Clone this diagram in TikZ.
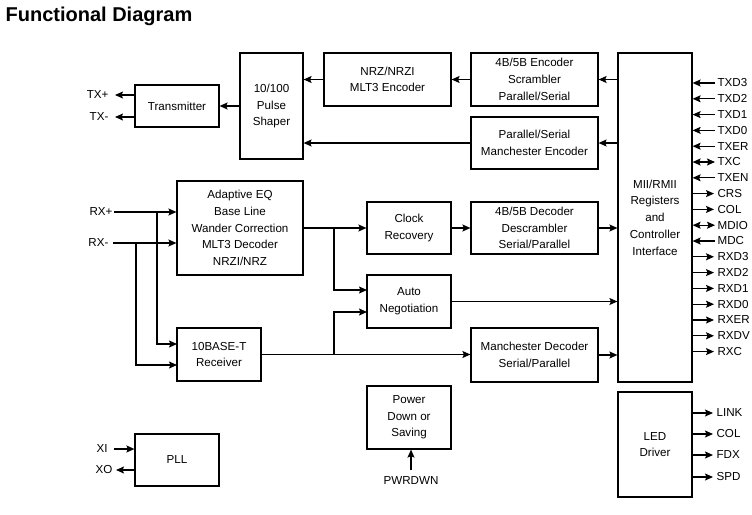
\documentclass[tikz,border=0pt]{standalone}
\usepackage{fontspec}
\setmainfont{Liberation Sans}
\usetikzlibrary{arrows.meta}
\newcommand\bodyfnt{\fontsize{11.6}{16.7}\selectfont}
\newcommand\titlefnt{\fontsize{20}{24}\selectfont\bfseries}
\begin{document}
\begin{tikzpicture}[x=1pt,y=-1pt,line width=1.2pt,
  >={Stealth[length=8pt,width=7pt,inset=1.5pt]},
  box/.style={draw,inner sep=0pt,align=center,font=\bodyfnt},
  sig/.style={inner sep=1pt,font=\bodyfnt}]
\useasboundingbox (0,0) rectangle (752,514);
\node[anchor=base west,inner sep=0pt,font=\titlefnt] (title) at (5,21) {Functional Diagram};
% boxes
\node[box,minimum width=84pt,minimum height=42pt] (tx) at (177,106) {Transmitter};
\node[box,minimum width=63pt,minimum height=106pt] (ps) at (271.5,106) {10/100\\Pulse\\Shaper};
\node[box,minimum width=127pt,minimum height=53pt] (nrz) at (387.5,79.5) {NRZ/NRZI\\MLT3 Encoder};
\node[box,minimum width=127pt,minimum height=53pt] (enc) at (534.5,79.5) {4B/5B Encoder\\Scrambler\\Parallel/Serial};
\node[box,minimum width=127pt,minimum height=52pt] (menc) at (534.5,143) {Parallel/Serial\\Manchester Encoder};
\node[box,minimum width=74pt,minimum height=329pt] (mii) at (655,217.5) {MII/RMII\\Registers\\and\\Controller\\Interface};
\node[box,minimum width=126pt,minimum height=94pt] (eq) at (240,228) {Adaptive EQ\\Base Line\\Wander Correction\\MLT3 Decoder\\NRZI/NRZ};
\node[box,minimum width=84pt,minimum height=53pt] (rx) at (219,354.5) {10BASE-T\\Receiver};
\node[box,minimum width=84pt,minimum height=52pt] (cr) at (409,228) {Clock\\Recovery};
\node[box,minimum width=127pt,minimum height=52pt] (dec) at (534.5,228) {4B/5B Decoder\\Descrambler\\Serial/Parallel};
\node[box,minimum width=84pt,minimum height=53pt] (an) at (409,301.5) {Auto\\Negotiation};
\node[box,minimum width=127pt,minimum height=54pt] (mdec) at (534.5,355) {Manchester Decoder\\Serial/Parallel};
\node[box,minimum width=84pt,minimum height=63pt] (pwr) at (409,417.5) {Power\\Down or\\Saving};
\node[box,minimum width=84pt,minimum height=52pt] (pll) at (177,460) {PLL};
\node[box,minimum width=74pt,minimum height=105pt] (led) at (655,444.5) {LED\\Driver};
% transmit path
\draw[->] (mii.west |- enc.east) -- (enc.east);
\draw[->] (enc.west) -- (nrz.east);
\draw[->] (nrz.west) -- (nrz.west -| ps.east);
\draw[->] (mii.west |- menc.east) -- (menc.east);
\draw[->] (menc.west) -- (menc.west -| ps.east);
\draw[->] (ps.west |- tx.east) -- (tx.east);
\coordinate (txp) at (115,95);
\coordinate (txm) at (115,117);
\draw[->] (tx.west |- txp) -- (txp);
\draw[->] (tx.west |- txm) -- (txm);
\node[sig,anchor=east] (ltxp) at (110,95) {TX+};
\node[sig,anchor=east] (ltxm) at (110,117) {TX-};
% receive path
\coordinate (rxp) at (114,212);
\coordinate (rxm) at (113,243);
\node[sig,anchor=east] (lrxp) at (114,212) {RX+};
\node[sig,anchor=east] (lrxm) at (110,243) {RX-};
\draw[->] (rxp) -- (rxp -| eq.west);
\draw[->] (rxm) -- (rxm -| eq.west);
\coordinate (v1) at (157,212);
\coordinate (v2) at (136,243);
\coordinate (r1) at (177,344);
\coordinate (r2) at (177,365);
\draw[->] (v1) |- (r1);
\draw[->] (v2) |- (r2);
\draw[->] (eq.east) -- (cr.west);
\coordinate (j1) at (334,228);
\coordinate (an1) at (367,290);
\coordinate (an2) at (367,312);
\draw[->] (j1) |- (an1);
\draw[->] (cr.east) -- (dec.west);
\draw[->] (dec.east) -- (dec.east -| mii.west);
\draw[->] (an.east) -- (an.east -| mii.west);
\draw[->] (rx.east) -- (rx.east -| mdec.west);
\coordinate (j2) at (334,354.5);
\draw[->] (j2) |- (an2);
\draw[->] (mdec.east) -- (mdec.east -| mii.west);
% MII signals
\foreach \n/\k in {TXD3/0,TXD2/1,TXD1/2,TXD0/3,TXER/4,TXEN/6,MDC/10}{
  \pgfmathsetmacro\yy{83+15.8*\k}
  \coordinate (m\n) at (715,\yy);
  \draw[->] (m\n) -- (m\n -| mii.east);
  \node[sig,anchor=west] (lm\n) at (716,\yy) {\n};
}
\foreach \n/\k in {TXC/5,MDIO/9}{
  \pgfmathsetmacro\yy{83+15.8*\k}
  \coordinate (m\n) at (715,\yy);
  \draw[<->] (m\n -| mii.east) -- (m\n);
  \node[sig,anchor=west] (lm\n) at (716,\yy) {\n};
}
\foreach \n/\k in {CRS/7,COL/8,RXD3/11,RXD2/12,RXD1/13,RXD0/14,RXER/15,RXDV/16,RXC/17}{
  \pgfmathsetmacro\yy{83+15.8*\k}
  \coordinate (m\n) at (714,\yy);
  \draw[->] (m\n -| mii.east) -- (m\n);
  \node[sig,anchor=west] (lm\n) at (716,\yy) {\n};
}
% LED signals
\foreach \n/\yy in {LINK/413,COL/434,FDX/455,SPD/477}{
  \coordinate (e\n) at (713,\yy);
  \draw[->] (e\n -| led.east) -- (e\n);
  \node[sig,anchor=west] (le\n) at (715,\yy) {\n};
}
% PLL
\coordinate (xi) at (114,449);
\coordinate (xo) at (116,470);
\draw[->] (xi) -- (xi -| pll.west);
\draw[->] (xo -| pll.west) -- (xo);
\node[sig] (lxi) at (102,449) {XI};
\node[sig] (lxo) at (104,470) {XO};
% power
\coordinate (pd) at (411,470);
\draw[->] (pd) -- (pd |- pwr.south);
\node[sig] (lpd) at (411,481) {PWRDWN};
\end{tikzpicture}
\end{document}
